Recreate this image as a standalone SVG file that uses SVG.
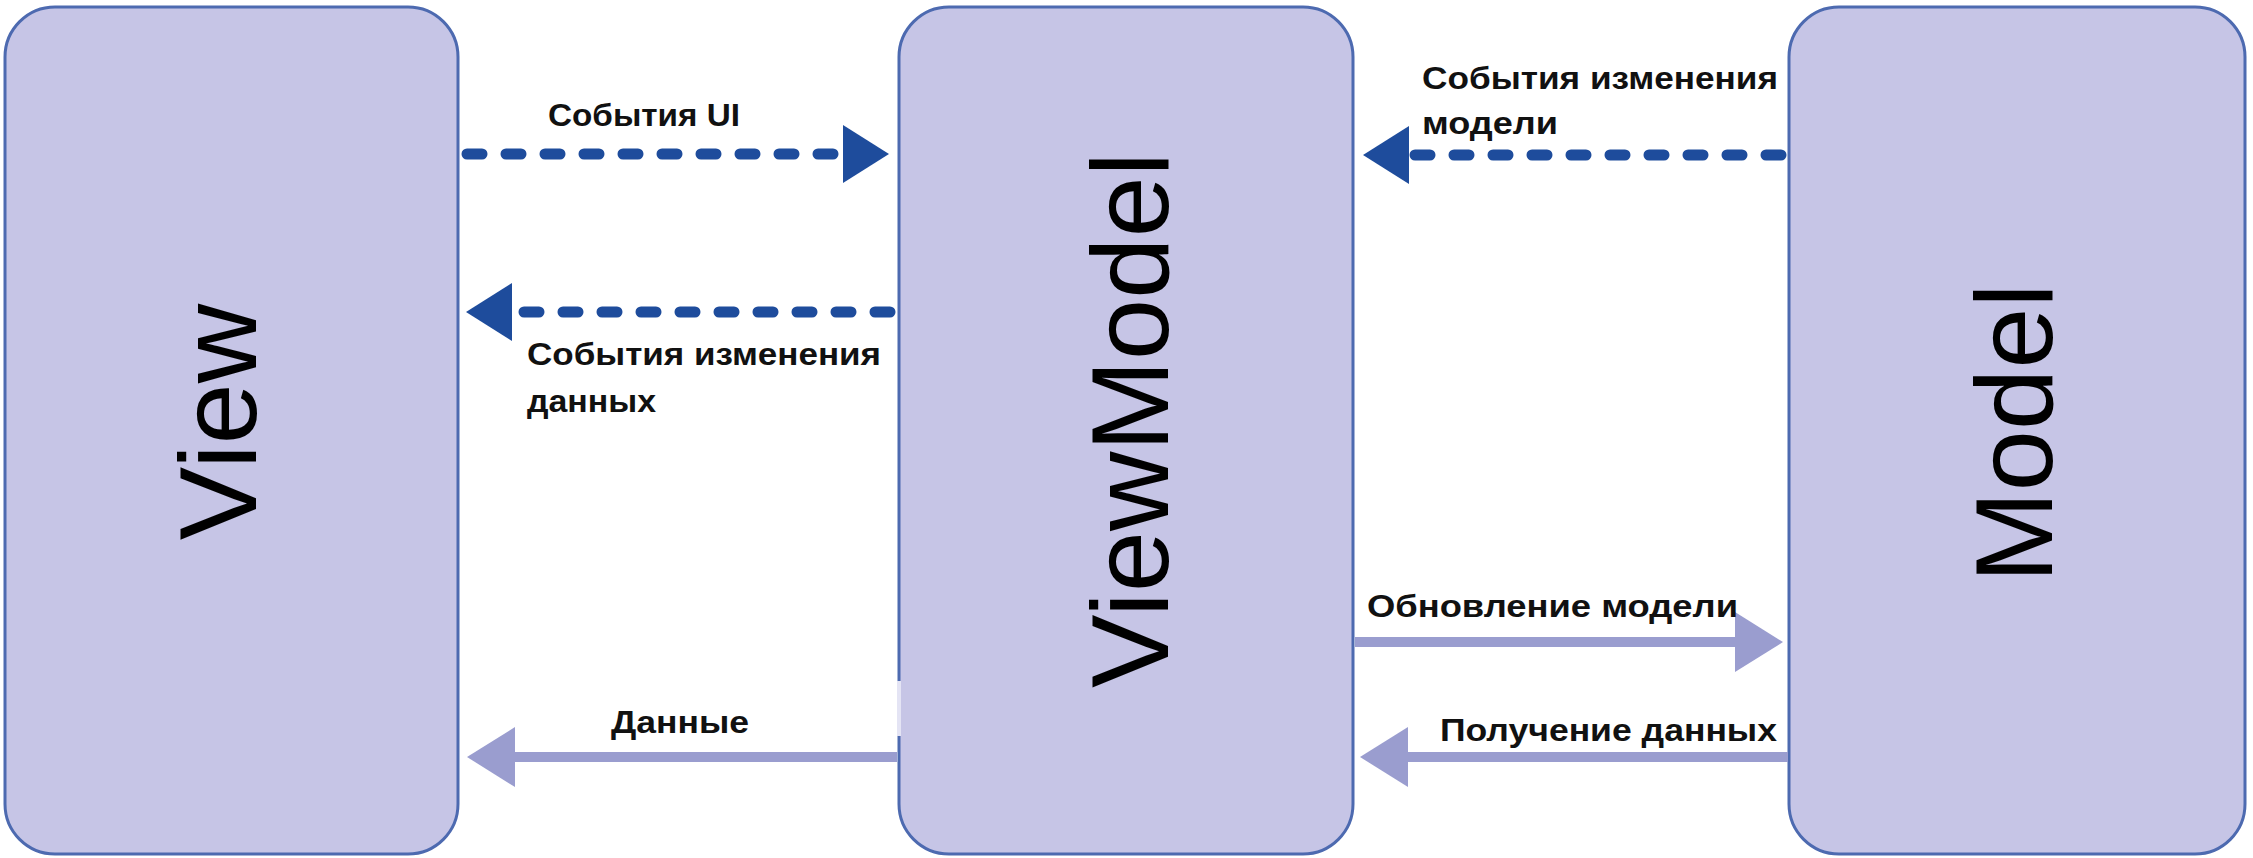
<svg xmlns="http://www.w3.org/2000/svg" width="2253" height="858" viewBox="0 0 2253 858">
  <style>
    .box { fill: #C6C5E6; stroke: #4D6AB0; stroke-width: 3; }
    .big { font-family: "Liberation Sans", Arial, sans-serif; font-size: 110px; fill: #000; text-anchor: middle; }
    .lbl { font-family: "Liberation Sans", Arial, sans-serif; font-size: 31px; font-weight: bold; fill: #111; }
    .dash { stroke: #1E4C9C; stroke-width: 11; stroke-dasharray: 15 24; stroke-linecap: round; fill: none; }
    .solid { stroke: #9A9DCF; stroke-width: 10; fill: none; }
  </style>
  <defs>
    <marker id="headDark" markerUnits="userSpaceOnUse" viewBox="0 -30 48 60" markerWidth="48" markerHeight="60" refX="6" refY="0" orient="auto">
      <path d="M0,-29 L46,0 L0,29 z" fill="#1E4C9C"/>
    </marker>
    <marker id="headLight" markerUnits="userSpaceOnUse" viewBox="0 -32 50 64" markerWidth="50" markerHeight="64" refX="6" refY="0" orient="auto">
      <path d="M0,-30 L48,0 L0,30 z" fill="#9A9DCF"/>
    </marker>
  </defs>
  <rect width="2253" height="858" fill="#FFFFFF"/>

  <g id="view">
    <rect class="box" x="5" y="7" width="453" height="847" rx="50" ry="50"/>
    <text class="big" transform="translate(256,422) rotate(-90)">View</text>
  </g>

  <g id="viewmodel">
    <rect class="box" x="899" y="7" width="454" height="847" rx="50" ry="50"/>
    <line x1="899" y1="681" x2="899" y2="736" stroke="#E4E4F4" stroke-width="4"/>
    <text class="big" transform="translate(1168,420) rotate(-90)">ViewModel</text>
  </g>

  <g id="model">
    <rect class="box" x="1789" y="7" width="456" height="847" rx="50" ry="50"/>
    <text class="big" transform="translate(2052,433) rotate(-90)">Model</text>
  </g>

  <g id="connectors">
    <line class="dash" x1="467" y1="154" x2="849" y2="154" marker-end="url(#headDark)"/>
    <line class="dash" x1="890" y1="312" x2="506" y2="312" marker-end="url(#headDark)"/>
    <line class="dash" x1="1781" y1="155" x2="1403" y2="155" marker-end="url(#headDark)"/>
    <line class="solid" x1="1355" y1="642" x2="1741" y2="642" marker-end="url(#headLight)"/>
    <line class="solid" x1="1788" y1="757" x2="1402" y2="757" marker-end="url(#headLight)"/>
    <line class="solid" x1="897" y1="757" x2="509" y2="757" marker-end="url(#headLight)"/>
  </g>

  <g id="labels">
    <text class="lbl" x="548" y="126" textLength="192" lengthAdjust="spacingAndGlyphs">События UI</text>
    <text class="lbl" x="527" y="365" textLength="354" lengthAdjust="spacingAndGlyphs">События изменения</text>
    <text class="lbl" x="527" y="412" textLength="129" lengthAdjust="spacingAndGlyphs">данных</text>
    <text class="lbl" x="1422" y="89" textLength="356" lengthAdjust="spacingAndGlyphs">События изменения</text>
    <text class="lbl" x="1422" y="134" textLength="136" lengthAdjust="spacingAndGlyphs">модели</text>
    <text class="lbl" x="1367" y="617" textLength="371" lengthAdjust="spacingAndGlyphs">Обновление модели</text>
    <text class="lbl" x="1440" y="741" textLength="337" lengthAdjust="spacingAndGlyphs">Получение данных</text>
    <text class="lbl" x="611" y="733" textLength="138" lengthAdjust="spacingAndGlyphs">Данные</text>
  </g>
</svg>
